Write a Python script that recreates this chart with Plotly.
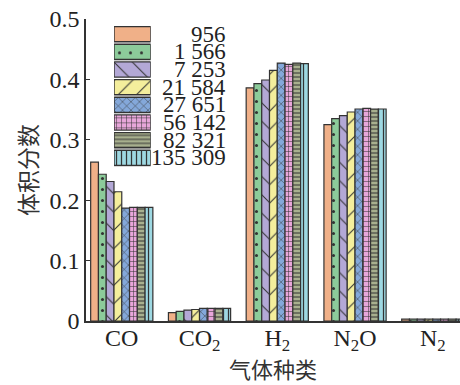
import plotly.graph_objects as go

# Gas species on the x axis
gases = ["CO", "CO<sub>2</sub>", "H<sub>2</sub>", "N<sub>2</sub>O", "N<sub>2</sub>"]

# Series labels (one per bar in each group)
series_names = ["956", "1 566", "7 253", "21 584", "27 651", "56 142", "82 321", "135 309"]

# Volume fraction of each gas for every series
v_956 = [0.263, 0.014, 0.386, 0.325, 0.003]
v_1566 = [0.243, 0.016, 0.393, 0.335, 0.003]
v_7253 = [0.231, 0.018, 0.399, 0.340, 0.003]
v_21584 = [0.214, 0.019, 0.415, 0.346, 0.003]
v_27651 = [0.187, 0.021, 0.427, 0.351, 0.003]
v_56142 = [0.188, 0.021, 0.425, 0.352, 0.003]
v_82321 = [0.188, 0.021, 0.427, 0.351, 0.003]
v_135309 = [0.188, 0.021, 0.426, 0.351, 0.003]
series_values = [v_956, v_1566, v_7253, v_21584, v_27651, v_56142, v_82321, v_135309]

# Y axis ticks
y_tickvals = [0, 0.1, 0.2, 0.3, 0.4, 0.5]
y_ticktext = ["0", "0.1", "0.2", "0.3", "0.4", "0.5"]

x_title = "气体种类"
y_title = "体积分数"

fills = ["#F0B088", "#8CCB9A", "#B3A8D6", "#F4EE9C", "#84A8DA", "#E8A6DA", "#A8B08E", "#9ED8E2"]
patterns = [
    dict(shape=""),
    dict(shape=".", size=11, solidity=0.06),
    dict(shape="\\", size=13, solidity=0.08),
    dict(shape="/", size=13, solidity=0.08),
    dict(shape="x", size=6, solidity=0.15),
    dict(shape="+", size=5, solidity=0.2),
    dict(shape="-", size=4, solidity=0.25),
    dict(shape="|", size=5, solidity=0.25),
]
edge = "#333333"
serif = "Liberation Serif, Times New Roman, serif"
cjk = "Noto Sans CJK SC, sans-serif"

fig = go.Figure()

for name, vals, col, pat in zip(series_names, series_values, fills, patterns):
    p = dict(pat)
    if p["shape"]:
        p.update(fgcolor=edge, bgcolor=col, fillmode="replace")
    fig.add_trace(go.Bar(
        x=list(range(len(gases))), y=vals, name=name,
        marker=dict(color=col, line=dict(color=edge, width=1.2), pattern=p),
        showlegend=False, xaxis="x", yaxis="y",
    ))

# Legend drawn as swatch bars on an inset axis, with labels alongside
n = len(series_names)
for i, (name, col, pat) in enumerate(zip(series_names, fills, patterns)):
    p = dict(pat)
    if p["shape"]:
        p.update(fgcolor=edge, bgcolor=col, fillmode="replace")
    fig.add_trace(go.Bar(
        x=[1], y=[i], orientation="h", width=0.86,
        marker=dict(color=col, line=dict(color=edge, width=1.4), pattern=p),
        showlegend=False, xaxis="x2", yaxis="y2", hoverinfo="skip",
    ))
    fig.add_annotation(
        x=0.381, xref="paper", y=i, yref="y2", text=name, showarrow=False,
        xanchor="right", yanchor="middle",
        font=dict(family=serif, size=23, color="#222"),
    )

# Axis titles placed as annotations so they don't push the margins
fig.add_annotation(
    x=0.5, xref="paper", y=-0.1556, yref="paper", text=x_title, showarrow=False,
    xanchor="center", yanchor="middle",
    font=dict(family=cjk, size=22, color="#333"),
)
fig.add_annotation(
    x=-0.158, xref="paper", y=0.5, yref="paper", text=y_title, showarrow=False,
    textangle=-90, xanchor="center", yanchor="middle",
    font=dict(family=cjk, size=23, color="#333"),
)

fig.update_layout(
    width=460, height=385,
    margin=dict(l=86, r=0, t=19, b=64, autoexpand=False),
    paper_bgcolor="white", plot_bgcolor="white",
    barmode="group", bargap=0.2, bargroupgap=0,
    xaxis=dict(
        range=[-0.46, 4.35], tickvals=list(range(len(gases))), ticktext=gases,
        showline=True, linecolor=edge, linewidth=1.5, ticks="", showgrid=False,
        zeroline=False, automargin=False, ticklabelstandoff=-6,
        tickfont=dict(family=serif, size=24, color="#222"),
    ),
    yaxis=dict(
        range=[0, 0.5], tickvals=y_tickvals, ticktext=y_ticktext,
        showline=True, linecolor=edge, linewidth=1.5, ticks="inside", ticklen=4,
        tickcolor=edge, showgrid=False, zeroline=False, automargin=False,
        tickfont=dict(family=serif, size=24, color="#222"),
    ),
    xaxis2=dict(domain=[0.0749, 0.173], range=[0, 1], visible=False, fixedrange=True),
    yaxis2=dict(domain=[0.511, 0.979], range=[n - 0.5, -0.5], visible=False, fixedrange=True),
)

fig.write_html("out.html")
